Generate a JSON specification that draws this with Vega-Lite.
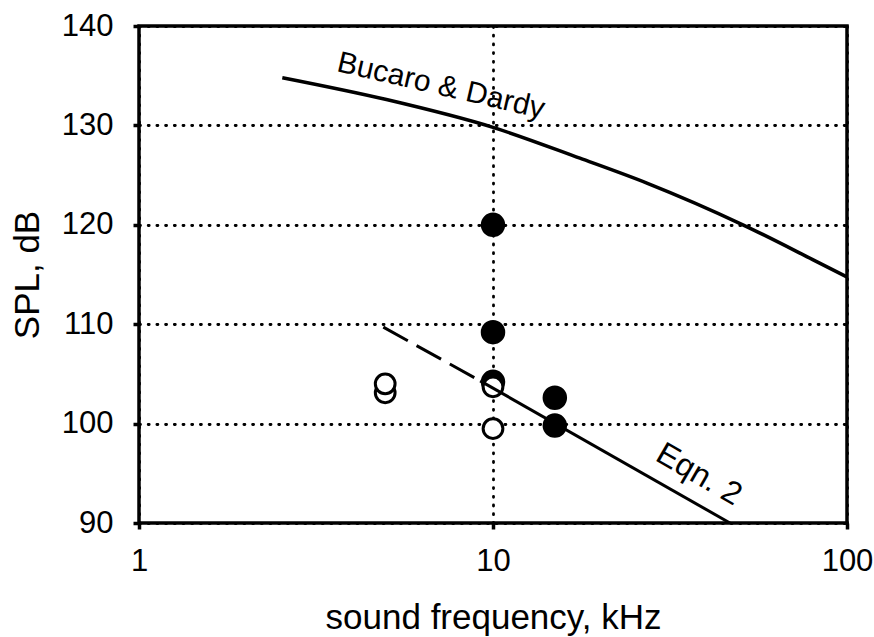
{
  "$schema": "https://vega.github.io/schema/vega-lite/v6.json",
  "width": 708,
  "height": 497,
  "autosize": "none",
  "padding": {"left": 139, "top": 26, "right": 27, "bottom": 114},
  "background": "white",
  "config": {
    "view": {"stroke": "black", "strokeWidth": 3.5},
    "axis": {
      "domain": false,
      "grid": true,
      "gridColor": "black",
      "gridDash": [1, 7.7],
      "gridCap": "round",
      "gridWidth": 2.8,
      "gridOpacity": 1,
      "ticks": true,
      "tickColor": "black",
      "tickWidth": 3.5,
      "tickSize": 6,
      "labelFont": "Liberation Sans",
      "labelFontSize": 31,
      "labelColor": "black",
      "labelPadding": 20,
      "labelFlush": false,
      "titleFont": "Liberation Sans",
      "titleFontSize": 35,
      "titleFontWeight": "normal",
      "titleColor": "black"
    }
  },
  "datasets": {
    "points": [
      {"freq": 4.96, "spl": 103.1, "kind": "open"},
      {"freq": 4.96, "spl": 104.0, "kind": "open"},
      {"freq": 10, "spl": 99.5, "kind": "open"},
      {"freq": 10, "spl": 120.0, "kind": "filled"},
      {"freq": 10, "spl": 109.2, "kind": "filled"},
      {"freq": 10, "spl": 104.2, "kind": "filled"},
      {"freq": 10, "spl": 103.7, "kind": "open"},
      {"freq": 14.95, "spl": 102.6, "kind": "filled"},
      {"freq": 14.95, "spl": 99.8, "kind": "filled"}
    ],
    "bucaro": [
      {"freq": 2.54, "spl": 134.8},
      {"freq": 5, "spl": 132.6},
      {"freq": 10, "spl": 129.8},
      {"freq": 17.6, "spl": 126.7},
      {"freq": 27.2, "spl": 124.2},
      {"freq": 50.8, "spl": 120.0},
      {"freq": 80, "spl": 116.5},
      {"freq": 100, "spl": 114.75}
    ],
    "eqnDashed": [
      {"freq": 4.9, "spl": 109.7},
      {"freq": 9.2, "spl": 104.3}
    ],
    "eqnSolid": [
      {"freq": 9.2, "spl": 104.3},
      {"freq": 46.7, "spl": 90.0}
    ],
    "labels": [
      {"freq": 7.13, "spl": 133.96, "text": "Bucaro & Dardy", "angle": 13, "size": 30},
      {"freq": 38.2, "spl": 94.9, "text": "Eqn. 2", "angle": 30, "size": 32}
    ]
  },
  "layer": [
    {
      "data": {"name": "points"},
      "transform": [{"filter": "datum.kind === 'filled'"}],
      "mark": {"type": "point", "shape": "circle", "filled": true, "color": "black", "size": 600, "opacity": 1},
      "encoding": {
        "x": {
          "field": "freq", "type": "quantitative",
          "scale": {"type": "log", "domain": [1, 100], "nice": false},
          "axis": {"values": [1, 10, 100], "format": "d", "labelPadding": 17, "title": "sound frequency, kHz", "titleY": 105, "titleBaseline": "alphabetic"}
        },
        "y": {
          "field": "spl", "type": "quantitative",
          "scale": {"domain": [90, 140], "nice": false, "zero": false},
          "axis": {"values": [90, 100, 110, 120, 130, 140], "title": "SPL, dB", "titleX": -101, "titleBaseline": "alphabetic"}
        }
      }
    },
    {
      "data": {"name": "points"},
      "transform": [{"filter": "datum.kind === 'open'"}],
      "mark": {"type": "point", "shape": "circle", "filled": false, "fill": "white", "fillOpacity": 1, "stroke": "black", "strokeWidth": 3, "size": 390, "opacity": 1},
      "encoding": {
        "x": {"field": "freq", "type": "quantitative"},
        "y": {"field": "spl", "type": "quantitative"}
      }
    },
    {
      "data": {"name": "bucaro"},
      "mark": {"type": "line", "color": "black", "strokeWidth": 3.5, "interpolate": "monotone"},
      "encoding": {
        "x": {"field": "freq", "type": "quantitative"},
        "y": {"field": "spl", "type": "quantitative"}
      }
    },
    {
      "data": {"name": "eqnDashed"},
      "mark": {"type": "line", "color": "black", "strokeWidth": 3, "strokeDash": [28, 10]},
      "encoding": {
        "x": {"field": "freq", "type": "quantitative"},
        "y": {"field": "spl", "type": "quantitative"}
      }
    },
    {
      "data": {"name": "eqnSolid"},
      "mark": {"type": "line", "color": "black", "strokeWidth": 3},
      "encoding": {
        "x": {"field": "freq", "type": "quantitative"},
        "y": {"field": "spl", "type": "quantitative"}
      }
    },
    {
      "data": {"name": "labels"},
      "mark": {"type": "text", "font": "Liberation Sans", "color": "black", "align": "center", "baseline": "middle"},
      "encoding": {
        "x": {"field": "freq", "type": "quantitative"},
        "y": {"field": "spl", "type": "quantitative"},
        "text": {"field": "text"},
        "angle": {"field": "angle", "type": "quantitative", "scale": null},
        "size": {"field": "size", "type": "quantitative", "scale": null}
      }
    }
  ]
}
